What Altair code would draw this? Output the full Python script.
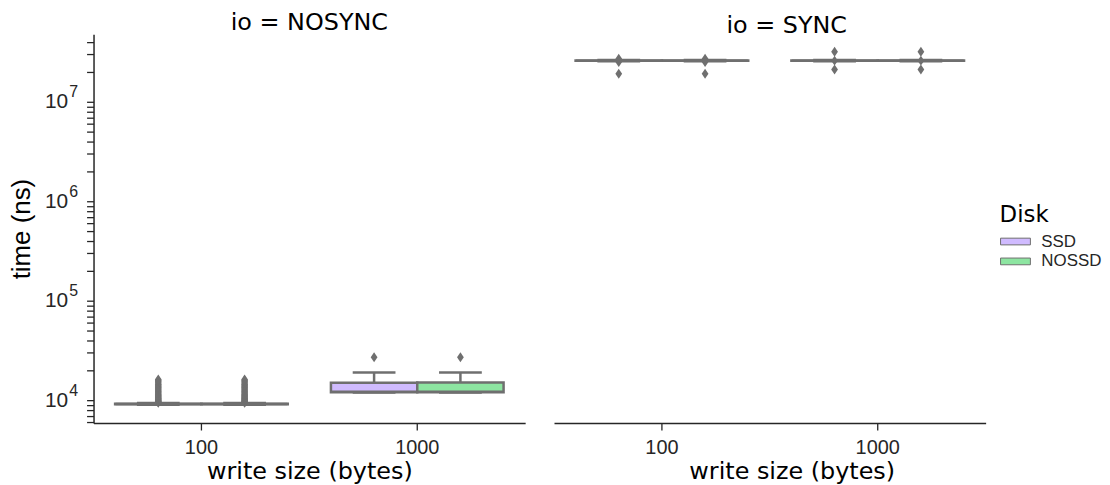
import altair as alt
import pandas as pd

io_modes = ["NOSYNC", "SYNC"]
sizes = ["100", "1000"]
disks = ["SSD", "NOSSD"]
disk_colors = ["#d0bbff", "#8de5a1"]

# box statistics per (io, size, disk)
box_io   = ["NOSYNC", "NOSYNC", "NOSYNC", "NOSYNC", "SYNC", "SYNC", "SYNC", "SYNC"]
box_size = ["100", "100", "1000", "1000", "100", "100", "1000", "1000"]
box_disk = ["SSD", "NOSSD", "SSD", "NOSSD", "SSD", "NOSSD", "SSD", "NOSSD"]
whisk_lo = [9000, 9000, 11950, 11950, 2.56e7, 2.56e7, 2.56e7, 2.56e7]
q1       = [9100, 9100, 12000, 12000, 2.59e7, 2.59e7, 2.59e7, 2.59e7]
median   = [9150, 9150, 12150, 12150, 2.60e7, 2.60e7, 2.60e7, 2.60e7]
q3       = [9200, 9200, 15000, 15100, 2.61e7, 2.61e7, 2.61e7, 2.61e7]
whisk_hi = [9400, 9400, 19000, 19000, 2.64e7, 2.64e7, 2.64e7, 2.64e7]

# outliers
nosync_100_out = [9450, 9550, 9650, 9750, 9850, 9950, 10100, 10250, 10400, 10550,
                  10700, 10900, 11100, 11300, 11500, 11750, 12000, 12250, 12500,
                  12800, 13100, 13400, 13700, 14000, 14300, 14600, 15000, 15400,
                  15800, 16200]
nosync_1000_out = [27000]
sync_100_out = [2.72e7, 2.52e7, 1.92e7]
sync_1000_out = [3.2e7, 2.6e7, 2.12e7]

y_label_values = [10000, 100000, 1000000, 10000000]
y_tick_values = [m * 10 ** k for k in range(3, 8) for m in range(1, 10)
                 if 5900 <= m * 10 ** k <= 4.8e7]

box_df = pd.DataFrame({"io": box_io, "size": box_size, "disk": box_disk,
                       "lo": whisk_lo, "q1": q1, "med": median, "q3": q3, "hi": whisk_hi})
rows = []
for io, sz, vals in [("NOSYNC", "100", nosync_100_out), ("NOSYNC", "1000", nosync_1000_out),
                     ("SYNC", "100", sync_100_out), ("SYNC", "1000", sync_1000_out)]:
    for d in disks:
        for v in vals:
            rows.append({"io": io, "size": sz, "disk": d, "value": v})
out_df = pd.DataFrame(rows)

GRAY = "#6f6f6f"
AXC = "#262626"
LW = 2.5
W, H = 434, 391
DIAMOND = "M0,-1L0.68,0L0,1L-0.68,0Z"

yscale = alt.Scale(type="log", domain=[5900, 4.8e7], nice=False)
xscale = alt.Scale(domain=sizes, paddingInner=0.2, paddingOuter=0.1)
offscale = alt.Scale(domain=disks, paddingInner=0, paddingOuter=0)

legend = alt.Legend(title="Disk", orient="none", legendX=911, legendY=171,
                    titleFont="DejaVu Sans", titleFontSize=23, titleFontWeight="normal",
                    titleColor="black", titlePadding=6, labelFont="Liberation Sans",
                    labelFontSize=17, labelColor=AXC, labelOffset=25,
                    symbolType="M-1,-0.45H3V0.45H-1Z", symbolSize=225,
                    symbolStrokeColor=GRAY, symbolStrokeWidth=1, symbolOpacity=1,
                    rowPadding=2, padding=0)


def make_xaxis(title_x):
    return alt.Axis(title="write size (bytes)", titleFont="DejaVu Sans", titleFontSize=24,
                    titleFontWeight="normal", titleColor="black", titlePadding=2,
                    titleX=title_x, titleAlign="center",
                    labelFont="Liberation Sans", labelFontSize=20, labelColor=AXC,
                    labelAngle=0, labelPadding=8, tickSize=7, tickColor=AXC, tickWidth=1.3,
                    domainColor=AXC, domainWidth=1.5, grid=False)


def panel(io, first):
    b = box_df[box_df["io"] == io]
    o = out_df[out_df["io"] == io]
    X = alt.X("size:N", scale=xscale, sort=sizes,
              axis=make_xaxis(W / 2 if first else W / 2 + 22))
    XO = alt.XOffset("disk:N", scale=offscale, sort=disks)
    if first:
        yaxis_main = alt.Axis(values=y_tick_values, labelExpr=(
            "indexof([10000, 100000, 1000000, 10000000], datum.value) >= 0 ? '10' : ''"),
            labelFont="Liberation Sans", labelFontSize=21, labelColor=AXC,
            labelPadding=19, labelOverlap=False, tickSize=7, tickColor=AXC, tickWidth=1.3,
            domainColor=AXC, domainWidth=1.5, grid=False, orient="left",
            title="time (ns)", titleFont="Liberation Sans", titleFontSize=26,
            titleFontWeight="normal", titleColor="black", titlePadding=10)
        yaxis_exp = alt.Axis(values=y_label_values, labelExpr=(
            "datum.value == 10000 ? '4' : datum.value == 100000 ? '5' : "
            "datum.value == 1000000 ? '6' : datum.value == 10000000 ? '7' : ''"),
            labelFont="Liberation Sans", labelFontSize=16, labelColor=AXC,
            labelPadding=16, labelOffset=-10, labelOverlap=False, ticks=False, tickSize=0,
            domain=False, grid=False, orient="left", title=None)
    else:
        yaxis_main = alt.Axis(values=y_tick_values, labels=False, tickSize=7, tickColor=AXC,
                              tickWidth=1.3, domainColor=AXC, domainWidth=1.5, grid=False,
                              title=None)
        yaxis_exp = None

    base = alt.Chart(b)
    whisk = base.mark_rule(color=GRAY, strokeWidth=LW).encode(
        x=X, xOffset=XO,
        y=alt.Y("lo:Q", scale=yscale, axis=None), y2="hi:Q")
    cap_lo = base.mark_tick(color=GRAY, size=43, thickness=LW, opacity=1).encode(
        x=X, xOffset=XO, y=alt.Y("lo:Q", scale=yscale, axis=None))
    cap_hi = base.mark_tick(color=GRAY, size=43, thickness=LW, opacity=1).encode(
        x=X, xOffset=XO, y=alt.Y("hi:Q", scale=yscale, axis=None))
    box = base.mark_bar(stroke=GRAY, strokeWidth=LW, opacity=1).encode(
        x=X, xOffset=XO,
        y=alt.Y("q1:Q", scale=yscale, axis=yaxis_main), y2="q3:Q",
        color=alt.Color("disk:N", scale=alt.Scale(domain=disks, range=disk_colors),
                        sort=disks, legend=legend))
    med = base.mark_tick(color=GRAY, size=86, thickness=LW, opacity=1).encode(
        x=X, xOffset=XO, y=alt.Y("med:Q", scale=yscale, axis=None))
    pts = alt.Chart(o).mark_point(shape=DIAMOND, filled=True, size=100, color=GRAY,
                                  opacity=1, strokeWidth=0).encode(
        x=X, xOffset=XO, y=alt.Y("value:Q", scale=yscale, axis=yaxis_exp))
    layer = alt.layer(whisk, cap_lo, cap_hi, box, med, pts).properties(
        width=W, height=H,
        title=alt.TitleParams(text=f"io = {io}", font="DejaVu Sans", fontSize=24,
                              fontWeight="normal", color="black", anchor="middle",
                              offset=-4, dx=0 if first else 17))
    if first:
        layer = layer.resolve_axis(y="independent")
    return layer


chart = alt.hconcat(panel("NOSYNC", True), panel("SYNC", False), spacing=29).resolve_scale(
    color="shared").resolve_legend(color="shared").properties(
    padding={"left": 0, "top": 1, "right": 0, "bottom": 0}
).configure_view(stroke=None)

chart.save("out.html", embed_options={"renderer": "svg", "actions": False})
